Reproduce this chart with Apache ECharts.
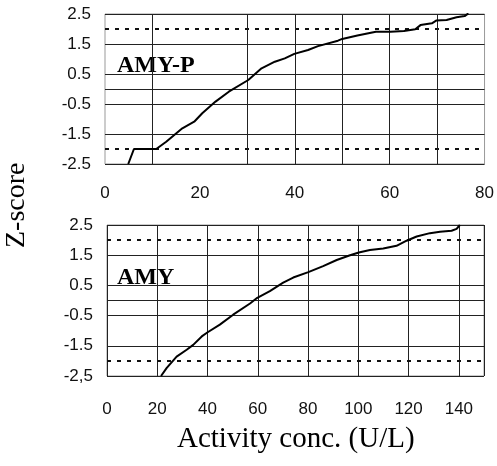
<!DOCTYPE html>
<html>
<head>
<meta charset="utf-8">
<script src="https://cdn.jsdelivr.net/npm/echarts@6/dist/echarts.min.js"></script>
<style>
  html, body { margin: 0; padding: 0; background: #fff; }
  #chart { width: 497px; height: 466px; }
</style>
</head>
<body>
<div id="chart"></div>
<script>
// Z-score curves (AMY-P top, AMY bottom)
const amyPx = [4.9, 6.1, 6.5, 10.8, 12.9, 16.3, 18.8, 20.5, 23.3, 26.1, 30.2, 33.0, 35.8, 37.9, 39.9, 42.8, 44.9, 49.1, 50.0, 53.2, 57.1, 60.2, 63.0, 65.4, 66.5, 68.9, 69.8, 72.0, 74.1, 75.8, 76.6];
const amyPz = [-2.5, -2.0, -2.0, -2.0, -1.76, -1.31, -1.09, -0.81, -0.42, -0.09, 0.3, 0.69, 0.91, 1.02, 1.17, 1.3, 1.43, 1.61, 1.67, 1.78, 1.91, 1.91, 1.93, 1.99, 2.13, 2.19, 2.28, 2.3, 2.39, 2.43, 2.52];
const amyX = [21.5, 23.7, 27.7, 31.7, 34.3, 37.7, 39.9, 44.9, 50.2, 56.9, 59.8, 64.8, 70.1, 74.1, 80.1, 86.0, 91.4, 96.7, 100.2, 104.6, 109.9, 115.2, 119.2, 123.2, 128.5, 132.5, 137.1, 139.1, 140.4];
const amyZ = [-2.5, -2.24, -1.86, -1.63, -1.47, -1.19, -1.06, -0.8, -0.47, -0.1, 0.09, 0.31, 0.59, 0.76, 0.94, 1.14, 1.34, 1.5, 1.59, 1.67, 1.72, 1.81, 1.98, 2.12, 2.23, 2.28, 2.31, 2.37, 2.5];
const limits = [2, -2];
const zeroLine = [0];
// vertical grid lines that are actually drawn in the top panel (none at 20)
const topGridX = [10, 30, 40, 50, 60, 70];

const zip = (xs, ys) => xs.map((x, i) => [x, ys[i]]);
const sans = '"Liberation Sans", Arial, sans-serif';
const serif = '"Liberation Serif", "Times New Roman", serif';

const yAxisFor = (idx, fmt) => ({
  type: 'value', gridIndex: idx, min: -2.5, max: 2.5, interval: 1,
  axisLine: { show: false }, axisTick: { show: false },
  axisLabel: { color: '#111', fontSize: 17, fontFamily: sans, margin: 14, formatter: fmt },
  splitLine: { show: true, lineStyle: { color: '#222', width: 1 } },
});

const refLines = (idx, xs) => ({
  type: 'line', xAxisIndex: idx, yAxisIndex: idx, data: [], silent: true,
  markLine: {
    symbol: 'none', silent: true, label: { show: false },
    data: [
      ...limits.map((v) => ({ yAxis: v, lineStyle: { type: [4, 6], width: 2, color: '#111' } })),
      ...zeroLine.map((v) => ({ yAxis: v, lineStyle: { type: 'solid', width: 1, color: '#222' } })),
      ...xs.map((v) => ({ xAxis: v, lineStyle: { type: 'solid', width: 1, color: '#222' } })),
    ],
  },
});

const curve = (idx, data) => ({
  type: 'line', xAxisIndex: idx, yAxisIndex: idx, data, showSymbol: false,
  clip: true, lineStyle: { color: '#000', width: 2 }, z: 5,
});

const chart = echarts.init(document.getElementById('chart'), null, { renderer: 'canvas' });
chart.setOption({
  backgroundColor: '#fff',
  animation: false,
  grid: [
    { left: 105, top: 14, width: 383, height: 150, show: true, borderColor: '#999', borderWidth: 1 },
    { left: 107, top: 225, width: 377, height: 151, show: true, borderColor: '#999', borderWidth: 1 },
  ],
  xAxis: [
    {
      type: 'value', gridIndex: 0, min: 0, max: 80, interval: 20,
      axisLine: { show: false }, axisTick: { show: false },
      axisLabel: { color: '#111', fontSize: 17, fontFamily: sans, margin: 21 },
      splitLine: { show: false },
    },
    {
      type: 'value', gridIndex: 1, min: 0, max: 150, interval: 20,
      axisLine: { show: false }, axisTick: { show: false },
      axisLabel: { color: '#111', fontSize: 17, fontFamily: sans, margin: 25, showMaxLabel: false },
      splitLine: { show: true, lineStyle: { color: '#222', width: 1 } },
    },
  ],
  yAxis: [
    yAxisFor(0, (v) => v.toFixed(1)),
    yAxisFor(1, (v) => (v === -2.5 ? '-2,5' : v.toFixed(1))),
  ],
  graphic: [
    { type: 'text', left: 117, top: 54, style: { text: 'AMY-P', font: 'bold 24px ' + serif, fill: '#000' } },
    { type: 'text', left: 117, top: 266, style: { text: 'AMY', font: 'bold 24px ' + serif, fill: '#000' } },
    { type: 'text', left: 177, top: 425, style: { text: 'Activity conc. (U/L)', font: '29px ' + serif, fill: '#000' } },
    { type: 'text', x: 3, y: 248, rotation: Math.PI / 2, style: { text: 'Z-score', font: '28px ' + serif, fill: '#000' } },
  ],
  series: [
    refLines(0, topGridX),
    refLines(1, []),
    curve(0, zip(amyPx, amyPz)),
    curve(1, zip(amyX, amyZ)),
  ],
});
window.addEventListener('resize', () => chart.resize());
</script>
</body>
</html>
